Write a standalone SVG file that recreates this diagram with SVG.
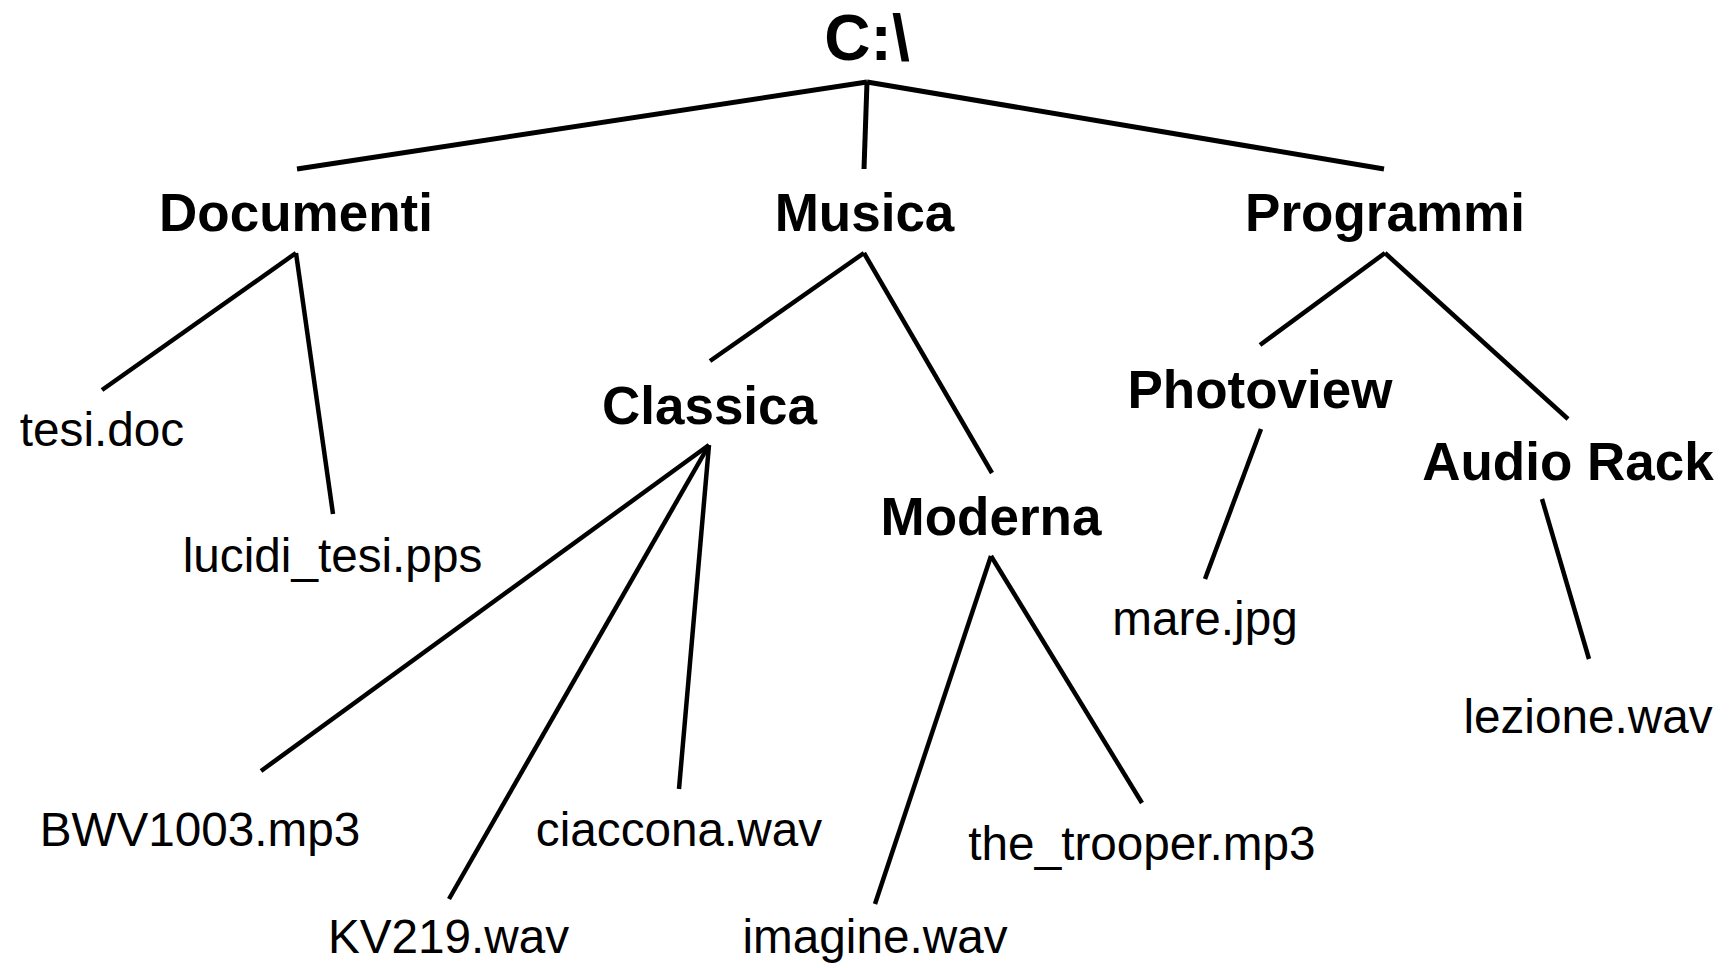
<svg xmlns="http://www.w3.org/2000/svg" width="1729" height="968" viewBox="0 0 1729 968">
<style>
.b{font-family:"Liberation Sans",Arial,sans-serif;font-weight:bold;font-size:53px;fill:#000;text-anchor:middle}
.r{font-family:"Liberation Sans",Arial,sans-serif;font-size:47.7px;fill:#000;text-anchor:middle}
.root{font-size:64px}
.e{stroke:#000;stroke-width:4.5;fill:none;stroke-linecap:butt}
.t{stroke-width:5}
</style>
<rect width="1729" height="968" fill="#fff"/>
<g id="connectors">
<line class="e t" x1="867" y1="82" x2="297" y2="169"/>
<line class="e t" x1="867" y1="82" x2="864" y2="169"/>
<line class="e t" x1="867" y1="82" x2="1384" y2="169"/>
<line class="e" x1="296" y1="253" x2="102" y2="390"/>
<line class="e" x1="296" y1="253" x2="333" y2="514"/>
<line class="e" x1="864" y1="253" x2="710" y2="361"/>
<line class="e" x1="864" y1="253" x2="992" y2="473"/>
<line class="e" x1="709" y1="445" x2="261" y2="771"/>
<line class="e" x1="709" y1="445" x2="449" y2="899"/>
<line class="e" x1="709" y1="445" x2="679" y2="789"/>
<line class="e" x1="991" y1="556" x2="875" y2="904"/>
<line class="e" x1="991" y1="556" x2="1142" y2="803"/>
<line class="e" x1="1385" y1="253" x2="1260" y2="345"/>
<line class="e" x1="1385" y1="253" x2="1568" y2="419"/>
<line class="e" x1="1261" y1="429" x2="1205" y2="579"/>
<line class="e" x1="1542" y1="499" x2="1589" y2="659"/>
</g>
<g id="n-root"><text class="b root" x="867" y="60">C:\</text></g>
<g id="n-documenti"><text class="b" x="296" y="231">Documenti</text></g>
<g id="n-musica"><text class="b" x="864.5" y="231">Musica</text></g>
<g id="n-programmi"><text class="b" x="1385" y="231">Programmi</text></g>
<g id="n-tesi"><text class="r" x="102" y="446">tesi.doc</text></g>
<g id="n-lucidi"><text class="r" x="332.5" y="572">lucidi_tesi.pps</text></g>
<g id="n-classica"><text class="b" x="709.5" y="424">Classica</text></g>
<g id="n-moderna"><text class="b" x="991" y="535">Moderna</text></g>
<g id="n-bwv"><text class="r" x="200" y="846">BWV1003.mp3</text></g>
<g id="n-kv219"><text class="r" x="448.5" y="953">KV219.wav</text></g>
<g id="n-ciaccona"><text class="r" x="679" y="846">ciaccona.wav</text></g>
<g id="n-imagine"><text class="r" x="875" y="953">imagine.wav</text></g>
<g id="n-trooper"><text class="r" x="1142" y="860">the_trooper.mp3</text></g>
<g id="n-photoview"><text class="b" x="1260" y="408">Photoview</text></g>
<g id="n-audiorack"><text class="b" x="1568" y="480">Audio Rack</text></g>
<g id="n-mare"><text class="r" x="1205" y="635">mare.jpg</text></g>
<g id="n-lezione"><text class="r" x="1588" y="733">lezione.wav</text></g>
</svg>
